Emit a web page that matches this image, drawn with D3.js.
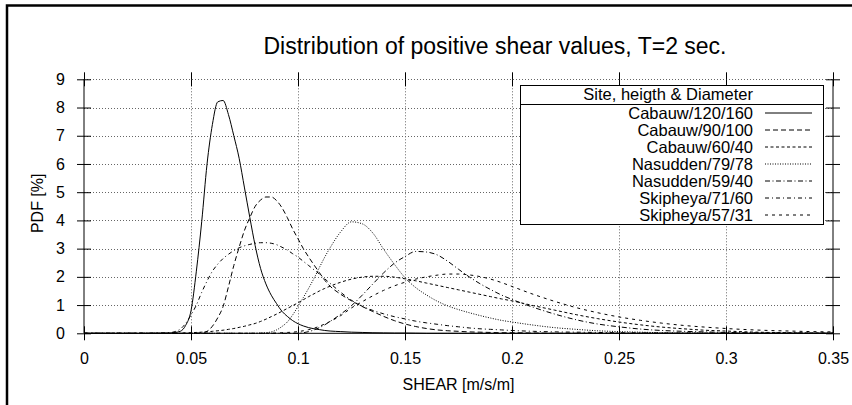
<!DOCTYPE html>
<html>
<head>
<meta charset="utf-8">
<script src="https://cdn.jsdelivr.net/npm/d3@7"></script>
<style>
  body { margin: 0; background: #fff; }
  svg { display: block; }
  text { font-family: "Liberation Sans", Arial, Helvetica, sans-serif; fill: #000; }
</style>
</head>
<body>
<svg id="chart" width="852" height="405"></svg>
<script>
// Shear sample points (m/s/m) shared by all PDF series
const shear = [
  0, 0.03, 0.04, 0.0425, 0.045, 0.0475, 0.05, 0.0525, 0.055, 0.0575,
  0.06, 0.0625, 0.065, 0.0675, 0.07, 0.0725, 0.075, 0.0775, 0.08, 0.0825,
  0.085, 0.0875, 0.09, 0.0925, 0.095, 0.0975, 0.1, 0.1025, 0.105, 0.1075,
  0.11, 0.1125, 0.115, 0.12, 0.125, 0.13, 0.135, 0.14, 0.145, 0.15,
  0.155, 0.16, 0.165, 0.17, 0.175, 0.18, 0.185, 0.19, 0.195, 0.2,
  0.21, 0.22, 0.23, 0.24, 0.25, 0.26, 0.27, 0.28, 0.29, 0.3,
  0.31, 0.32, 0.33, 0.34, 0.35
];

// PDF [%] per site, one value per shear sample
const cabauw120 = [
  0, 0, 0.01, 0.03, 0.07, 0.28, 0.8, 2.2, 3.95, 6.0,
  7.4, 8.2, 8.25, 7.75, 7.0, 6.2, 5.15, 4.1, 3.1, 2.3,
  1.75, 1.35, 1.05, 0.78, 0.6, 0.45, 0.34, 0.26, 0.2, 0.16,
  0.13, 0.1, 0.08, 0.06, 0.04, 0.03, 0.02, 0.015, 0.01, 0.01,
  0.005, 0, 0, 0, 0, 0, 0, 0, 0, 0,
  0, 0, 0, 0, 0, 0, 0, 0, 0, 0,
  0, 0, 0, 0, 0
];
const cabauw90 = [
  0, 0, 0, 0, 0, 0, 0, 0, 0.02, 0.07,
  0.25, 0.55, 0.95, 1.65, 2.4, 3.05, 3.65, 4.1, 4.5, 4.72,
  4.83, 4.83, 4.7, 4.45, 4.1, 3.7, 3.35, 3.0, 2.7, 2.42,
  2.15, 1.88, 1.67, 1.38, 1.15, 0.95, 0.77, 0.6, 0.45, 0.33,
  0.24, 0.17, 0.12, 0.09, 0.07, 0.05, 0.04, 0.03, 0.02, 0.02,
  0.01, 0, 0, 0, 0, 0, 0, 0, 0, 0,
  0, 0, 0, 0, 0
];
const cabauw60 = [
  0, 0, 0, 0, 0, 0.01, 0.02, 0.03, 0.04, 0.05,
  0.07, 0.09, 0.11, 0.14, 0.17, 0.21, 0.25, 0.3, 0.35, 0.42,
  0.5, 0.59, 0.68, 0.78, 0.88, 0.98, 1.08, 1.19, 1.3, 1.4,
  1.5, 1.59, 1.67, 1.81, 1.92, 1.99, 2.02, 2.02, 1.99, 1.93,
  1.86, 1.78, 1.7, 1.62, 1.54, 1.46, 1.38, 1.3, 1.22, 1.15,
  0.98, 0.82, 0.66, 0.52, 0.4, 0.3, 0.22, 0.16, 0.11, 0.08,
  0.05, 0.03, 0.02, 0.01, 0.01
];
const nasudden79 = [
  0, 0, 0, 0, 0, 0, 0, 0, 0, 0,
  0, 0, 0, 0, 0, 0, 0, 0, 0, 0.01,
  0.02, 0.05, 0.12, 0.24, 0.4, 0.65, 0.95, 1.27, 1.6, 1.95,
  2.33, 2.7, 3.03, 3.6, 3.95, 3.88, 3.55, 2.98, 2.45, 1.97,
  1.62, 1.36, 1.14, 0.97, 0.84, 0.73, 0.63, 0.54, 0.46, 0.4,
  0.29, 0.2, 0.14, 0.09, 0.06, 0.04, 0.02, 0.01, 0.01, 0,
  0, 0, 0, 0, 0
];
const nasudden59 = [
  0, 0, 0, 0, 0, 0, 0, 0, 0, 0,
  0, 0, 0, 0, 0, 0, 0, 0, 0, 0,
  0, 0, 0, 0, 0, 0, 0, 0.02, 0.06, 0.12,
  0.2, 0.3, 0.42, 0.68, 0.98, 1.35, 1.75, 2.14, 2.48, 2.72,
  2.9, 2.88, 2.78, 2.55, 2.27, 2.0, 1.76, 1.55, 1.36, 1.2,
  0.92, 0.68, 0.48, 0.33, 0.23, 0.15, 0.1, 0.07, 0.05, 0.03,
  0.02, 0.01, 0.01, 0, 0
];
const skipheya71 = [
  0, 0, 0.02, 0.06, 0.15, 0.35, 0.65, 1.0, 1.45, 1.85,
  2.2, 2.45, 2.65, 2.8, 2.93, 3.03, 3.1, 3.15, 3.19, 3.21,
  3.21, 3.19, 3.14, 3.05, 2.95, 2.82, 2.7, 2.55, 2.4, 2.25,
  2.1, 1.93, 1.77, 1.45, 1.17, 0.96, 0.81, 0.69, 0.59, 0.51,
  0.43, 0.37, 0.32, 0.27, 0.23, 0.19, 0.16, 0.14, 0.12, 0.1,
  0.07, 0.05, 0.04, 0.03, 0.02, 0.015, 0.01, 0.01, 0, 0,
  0, 0, 0, 0, 0
];
const skipheya57 = [
  0, 0, 0, 0, 0, 0, 0, 0, 0, 0,
  0, 0, 0, 0, 0, 0, 0, 0, 0, 0,
  0, 0, 0.01, 0.02, 0.03, 0.04, 0.06, 0.09, 0.13, 0.18,
  0.25, 0.33, 0.42, 0.63, 0.9, 1.12, 1.33, 1.52, 1.68, 1.81,
  1.92, 2.0, 2.06, 2.1, 2.1, 2.07, 2.01, 1.92, 1.8, 1.66,
  1.38, 1.13, 0.91, 0.73, 0.58, 0.46, 0.36, 0.28, 0.22, 0.17,
  0.13, 0.1, 0.08, 0.06, 0.05
];

const siteNames = [
  "Cabauw/120/160", "Cabauw/90/100", "Cabauw/60/40",
  "Nasudden/79/78", "Nasudden/59/40", "Skipheya/71/60", "Skipheya/57/31"
];
const siteValues = [cabauw120, cabauw90, cabauw60, nasudden79, nasudden59, skipheya71, skipheya57];
const lineDashes = [null, "5,3", "3,2.5", "1,1.5", "5,2.5,1,2.5", "4,3,1,3", "3,4"];

const xTicks = [0, 0.05, 0.1, 0.15, 0.2, 0.25, 0.3, 0.35];
const xTickLabels = ["0", "0.05", "0.1", "0.15", "0.2", "0.25", "0.3", "0.35"];
const yTicks = [0, 1, 2, 3, 4, 5, 6, 7, 8, 9];

const svg = d3.select("#chart");
const plotLeft = 84, plotRight = 833, plotTop = 79.3, plotBottom = 333.3;

const x = d3.scaleLinear().domain([0, 0.35]).range([plotLeft, plotRight]);
const y = d3.scaleLinear().domain([0, 9]).range([plotBottom, plotTop]);

// Outer frame
svg.append("path")
  .attr("d", "M7,405V5.5H852")
  .attr("fill", "none").attr("stroke", "#000").attr("stroke-width", 2.5);

// Title
svg.append("text")
  .attr("x", 495).attr("y", 54)
  .attr("text-anchor", "middle")
  .attr("font-size", 23)
  .text("Distribution of positive shear values, T=2 sec.");

// Grid
const grid = svg.append("g").attr("stroke", "#666").attr("stroke-width", 1)
  .attr("stroke-dasharray", "1,2").attr("fill", "none");
grid.selectAll("line.h").data(yTicks.filter(d => d > 0)).join("line")
  .attr("x1", plotLeft).attr("x2", plotRight)
  .attr("y1", d => Math.round(y(d)) + 0.5).attr("y2", d => Math.round(y(d)) + 0.5);
grid.selectAll("line.v").data(xTicks.filter(d => d > 0 && d < 0.35)).join("line")
  .attr("y1", plotTop).attr("y2", plotBottom)
  .attr("x1", d => Math.round(x(d)) + 0.5).attr("x2", d => Math.round(x(d)) + 0.5);

// Axes: ticks cross the border on all four sides
function tickAxis(gen, tx, ty, labels) {
  const g = svg.append("g").attr("transform", `translate(${tx},${ty})`).call(gen);
  g.select(".domain").remove();
  g.selectAll("text").attr("font-size", 16).attr("fill", "#000")
    .attr("font-family", '"Liberation Sans", Arial, sans-serif');
  if (!labels) g.selectAll("text").remove();
  g.selectAll("line").attr("stroke", "#000");
  return g;
}
tickAxis(d3.axisBottom(x).tickValues(xTicks).tickFormat((d, i) => xTickLabels[i]).tickSize(7).tickPadding(12.5), 0, plotBottom, true);
tickAxis(d3.axisTop(x).tickValues(xTicks).tickSize(7), 0, plotBottom, false);
tickAxis(d3.axisTop(x).tickValues(xTicks).tickSize(7), 0, plotTop, false);
tickAxis(d3.axisBottom(x).tickValues(xTicks).tickSize(7), 0, plotTop, false);
tickAxis(d3.axisLeft(y).tickValues(yTicks).tickFormat(d3.format("d")).tickSize(7).tickPadding(12), plotLeft, 0, true);
tickAxis(d3.axisRight(y).tickValues(yTicks).tickSize(7), plotLeft, 0, false);
tickAxis(d3.axisRight(y).tickValues(yTicks).tickSize(7), plotRight, 0, false);
tickAxis(d3.axisLeft(y).tickValues(yTicks).tickSize(7), plotRight, 0, false);

// Border: left, right, bottom
svg.append("path")
  .attr("d", `M${plotLeft},${plotTop}V${plotBottom}H${plotRight}V${plotTop}`)
  .attr("fill", "none").attr("stroke", "#000").attr("stroke-width", 1);

// Axis labels
svg.append("text")
  .attr("x", (plotLeft + plotRight) / 2).attr("y", 390)
  .attr("text-anchor", "middle").attr("font-size", 16)
  .text("SHEAR [m/s/m]");
svg.append("text")
  .attr("transform", `translate(43,${(plotTop + plotBottom) / 2 - 3}) rotate(-90)`)
  .attr("text-anchor", "middle").attr("font-size", 16)
  .text("PDF [%]");

// Curves
const line = d3.line()
  .x((d, i) => x(shear[i]))
  .y(d => y(d))
  .curve(d3.curveMonotoneX);

svg.append("g").selectAll("path").data(siteValues).join("path")
  .attr("d", d => line(d))
  .attr("fill", "none")
  .attr("stroke", "#000")
  .attr("stroke-width", 1)
  .attr("stroke-dasharray", (d, i) => lineDashes[i]);

// Legend
const lg = svg.append("g");
lg.append("rect")
  .attr("x", 520.5).attr("y", 85.5).attr("width", 303).attr("height", 139)
  .attr("fill", "#fff").attr("stroke", "#000").attr("stroke-width", 1);
lg.append("line")
  .attr("x1", 520.5).attr("x2", 823.5).attr("y1", 104.5).attr("y2", 104.5)
  .attr("stroke", "#000");
lg.append("text")
  .attr("x", 753).attr("y", 100).attr("text-anchor", "end").attr("font-size", 16.5)
  .text("Site, heigth & Diameter");
const rows = lg.selectAll("g.row").data(siteNames).join("g")
  .attr("transform", (d, i) => `translate(0,${118.5 + i * 17})`);
rows.append("text")
  .attr("x", 753).attr("y", 0).attr("text-anchor", "end").attr("font-size", 16.5)
  .text(d => d);
rows.append("line")
  .attr("x1", 765).attr("x2", 812).attr("y1", -5.5).attr("y2", -5.5)
  .attr("stroke", "#000").attr("stroke-width", 1)
  .attr("stroke-dasharray", (d, i) => lineDashes[i]);
</script>
</body>
</html>
